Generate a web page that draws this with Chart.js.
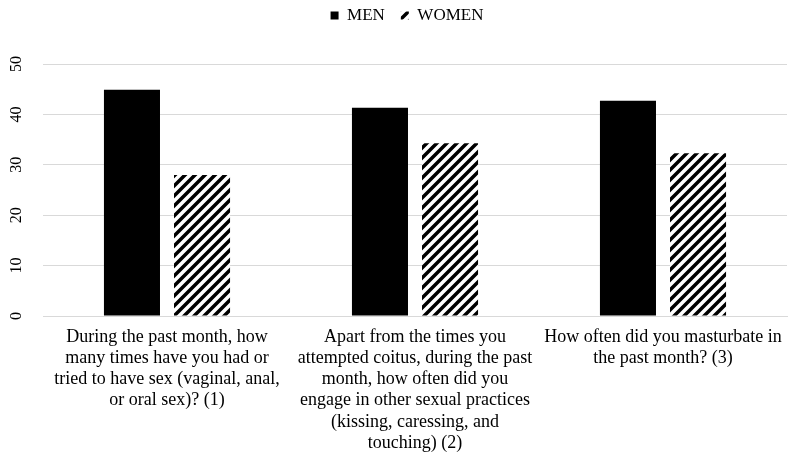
<!DOCTYPE html>
<html lang="en">
<head>
    <meta charset="UTF-8">
    <title>Men vs Women</title>
    <script src="https://cdn.jsdelivr.net/npm/chart.js"></script>
    <style>
        html, body { margin: 0; padding: 0; background: #ffffff; }
        #wrap { width: 789px; height: 453px; }
    </style>
</head>
<body>
<div id="wrap"><canvas id="chart"></canvas></div>

<script>
    const categories = [
        ["During the past month, how", "many times have you had or", "tried to have sex (vaginal, anal,", "or oral sex)? (1)"],
        ["Apart from the times you", "attempted coitus, during the past", "month, how often did you", "engage in other sexual practices", "(kissing, caressing, and", "touching) (2)"],
        ["How often did you masturbate in", "the past month? (3)"]
    ];
    const menValues = [44.9, 41.3, 42.7];
    const womenValues = [28.0, 34.3, 32.3];
    const yTicks = [0, 10, 20, 30, 40, 50];

    // diagonal hatch for the women bars
    function makeHatch() {
        const c = document.createElement('canvas');
        c.width = 10; c.height = 10;
        const g = c.getContext('2d');
        g.fillStyle = '#ffffff';
        g.fillRect(0, 0, 10, 10);
        g.strokeStyle = '#000000';
        g.lineWidth = 3.5;
        g.beginPath();
        g.moveTo(-2, 12); g.lineTo(12, -2);
        g.moveTo(-7, 7); g.lineTo(7, -7);
        g.moveTo(3, 17); g.lineTo(17, 3);
        g.stroke();
        return g.createPattern(c, 'repeat');
    }

    const font = "'Liberation Serif', 'Times New Roman', serif";
    Chart.defaults.font.family = font;
    Chart.defaults.color = '#000000';

    // make room between legend and plot
    const legendSpace = {
        id: 'legendSpace',
        beforeInit(chart) {
            const fit = chart.legend.fit;
            chart.legend.fit = function () {
                fit.call(this);
                this.height = 73;
            };
        }
    };

    // rotated y tick labels, placed with the y scale
    const yLabels = {
        id: 'yLabels',
        afterDraw(chart) {
            const s = chart.scales.y;
            const ctx = chart.ctx;
            ctx.save();
            ctx.font = '16px ' + font;
            ctx.fillStyle = '#000000';
            ctx.textAlign = 'center';
            ctx.textBaseline = 'middle';
            yTicks.forEach(v => {
                ctx.save();
                ctx.translate(17, s.getPixelForValue(v));
                ctx.rotate(-Math.PI / 2);
                ctx.fillText(String(v), 0, 0);
                ctx.restore();
            });
            ctx.restore();
        }
    };

    new Chart(document.getElementById('chart').getContext('2d'), {
        type: 'bar',
        data: {
            labels: categories,
            datasets: [
                {
                    label: 'MEN',
                    data: menValues,
                    backgroundColor: '#000000',
                    borderWidth: 0,
                    categoryPercentage: 0.565,
                    barPercentage: 0.8
                },
                {
                    label: 'WOMEN',
                    data: womenValues,
                    backgroundColor: makeHatch(),
                    borderWidth: 0,
                    categoryPercentage: 0.565,
                    barPercentage: 0.8
                }
            ]
        },
        options: {
            responsive: true,
            maintainAspectRatio: false,
            animation: false,
            layout: { padding: { left: 27, right: 2, top: -9, bottom: 0 } },
            scales: {
                x: {
                    grid: { display: false, drawTicks: false },
                    border: { color: '#d9d9d9', width: 1 },
                    ticks: {
                        font: { size: 18, lineHeight: 1.17 },
                        padding: 11,
                        maxRotation: 0,
                        minRotation: 0,
                        autoSkip: false
                    },
                    afterFit: (axis) => {
                        axis.height = 137;
                        axis.paddingLeft = 0;
                        axis.paddingRight = 0;
                    }
                },
                y: {
                    min: 0,
                    max: 50,
                    afterBuildTicks: (axis) => { axis.ticks = yTicks.map(v => ({ value: v })); },
                    grid: { color: '#d9d9d9', lineWidth: 1, drawTicks: false },
                    border: { display: false },
                    ticks: { display: false },
                    afterFit: (axis) => { axis.width = 16; }
                }
            },
            plugins: {
                legend: {
                    position: 'top',
                    labels: {
                        font: { size: 17 },
                        boxWidth: 8,
                        boxHeight: 8,
                        padding: 16
                    }
                },
                tooltip: { enabled: false }
            }
        },
        plugins: [legendSpace, yLabels]
    });
</script>
</body>
</html>
